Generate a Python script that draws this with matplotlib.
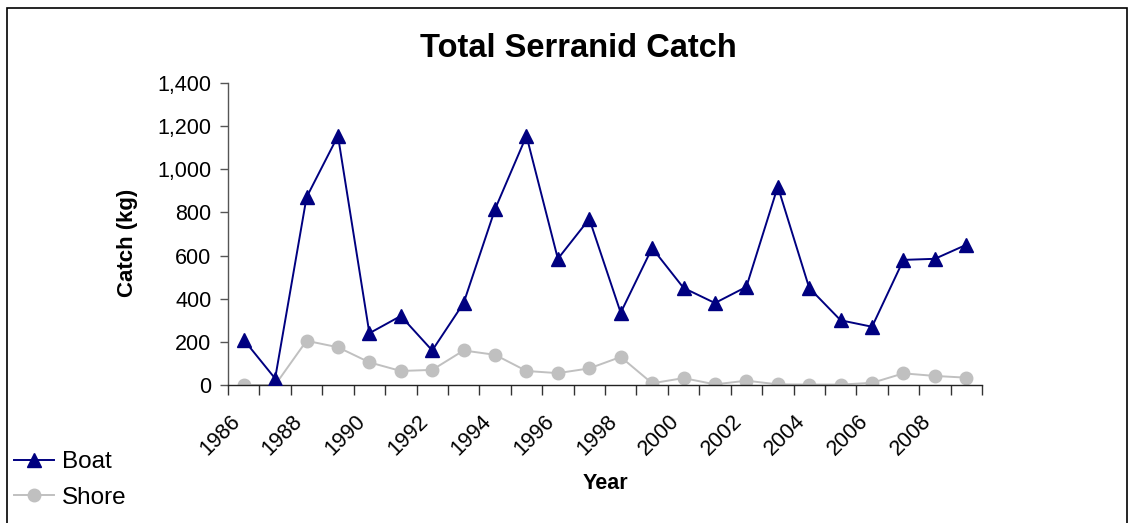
import matplotlib
matplotlib.use("Agg")
from matplotlib import pyplot as plt
from matplotlib.patches import Rectangle
from matplotlib.ticker import FuncFormatter, FixedLocator
from matplotlib.transforms import ScaledTranslation

plt.rcParams['font.family'] = ['Liberation Sans', 'DejaVu Sans']

years = list(range(1986, 2010))
boat = [210, 30, 870, 1155, 240, 320, 160, 380, 815, 1155, 585, 770,
        335, 635, 450, 380, 455, 920, 450, 300, 270, 580, 585, 650]
shore = [0, 0, 205, 175, 105, 65, 70, 160, 140, 65, 55, 77,
         130, 8, 32, 3, 20, 3, 2, 2, 10, 54, 42, 34]
tickYears = [y for y in years if y % 2 == 0]

W, H = 1134, 523
fig = plt.figure(figsize=(W / 100, H / 100), dpi=100)
ax = fig.add_axes([228 / W, 1 - 385 / H, (982 - 228) / W, (385 - 83) / H])

x = list(range(len(years)))
ax.plot(x, boat, color='#000080', linewidth=1.4, marker='^', markersize=10.5,
        markerfacecolor='#000080', markeredgecolor='#000080', label='Boat', zorder=3)
ax.plot(x, shore, color='#c0c0c0', linewidth=1.4, marker='o', markersize=9,
        markerfacecolor='#c0c0c0', markeredgecolor='#c0c0c0', label='Shore', zorder=2)

ax.set_xlim(-0.5, len(years) - 0.5)
ax.set_ylim(0, 1400)
ax.set_yticks(range(0, 1401, 200))
ax.yaxis.set_major_formatter(FuncFormatter(lambda v, p: f'{int(v):,}'))

# labels every other year, tick marks between categories
ax.set_xticks([years.index(y) for y in tickYears])
ax.set_xticklabels([str(y) for y in tickYears], rotation=45, ha='right', va='center',
                   rotation_mode='anchor', fontsize=15.5)
ax.xaxis.set_minor_locator(FixedLocator([i - 0.5 for i in range(len(years) + 1)]))
ax.tick_params(axis='x', which='major', length=0, pad=24)
ax.tick_params(axis='x', which='minor', length=7, width=1, color='#333333', direction='out')
ax.tick_params(axis='y', length=6, width=1, color='#555555', labelsize=15.5, pad=6)
for lab in ax.get_xticklabels():
    lab.set_transform(lab.get_transform() + ScaledTranslation(-0.07, 0, fig.dpi_scale_trans))

for s in ['top', 'right']:
    ax.spines[s].set_visible(False)
ax.spines['left'].set_color('#555555')
ax.spines['bottom'].set_color('#222222')
ax.spines['left'].set_linewidth(1)
ax.spines['bottom'].set_linewidth(1)

fig.text(578 / W, 1 - 57 / H, 'Total Serranid Catch', fontsize=23.5, fontweight='bold',
         ha='center', va='baseline')
fig.text(128 / W, 1 - 243 / H, 'Catch (kg)', fontsize=16, fontweight='bold',
         rotation=90, ha='center', va='center')
fig.text(605 / W, 1 - 489 / H, 'Year', fontsize=15.5, fontweight='bold',
         ha='center', va='baseline')

fig.legend(loc='center left', bbox_to_anchor=(14 / W, 1 - 480 / H), frameon=False,
           fontsize=17.5, handlelength=1.65, handletextpad=0.33, labelspacing=0.55,
           borderpad=0, borderaxespad=0)

fig.patches.append(Rectangle((7 / W, -0.05), (1127 - 7) / W, 1.05 - 8 / H,
                             transform=fig.transFigure, fill=False,
                             edgecolor='black', linewidth=1.2))

fig.savefig('out.png', dpi=100)
